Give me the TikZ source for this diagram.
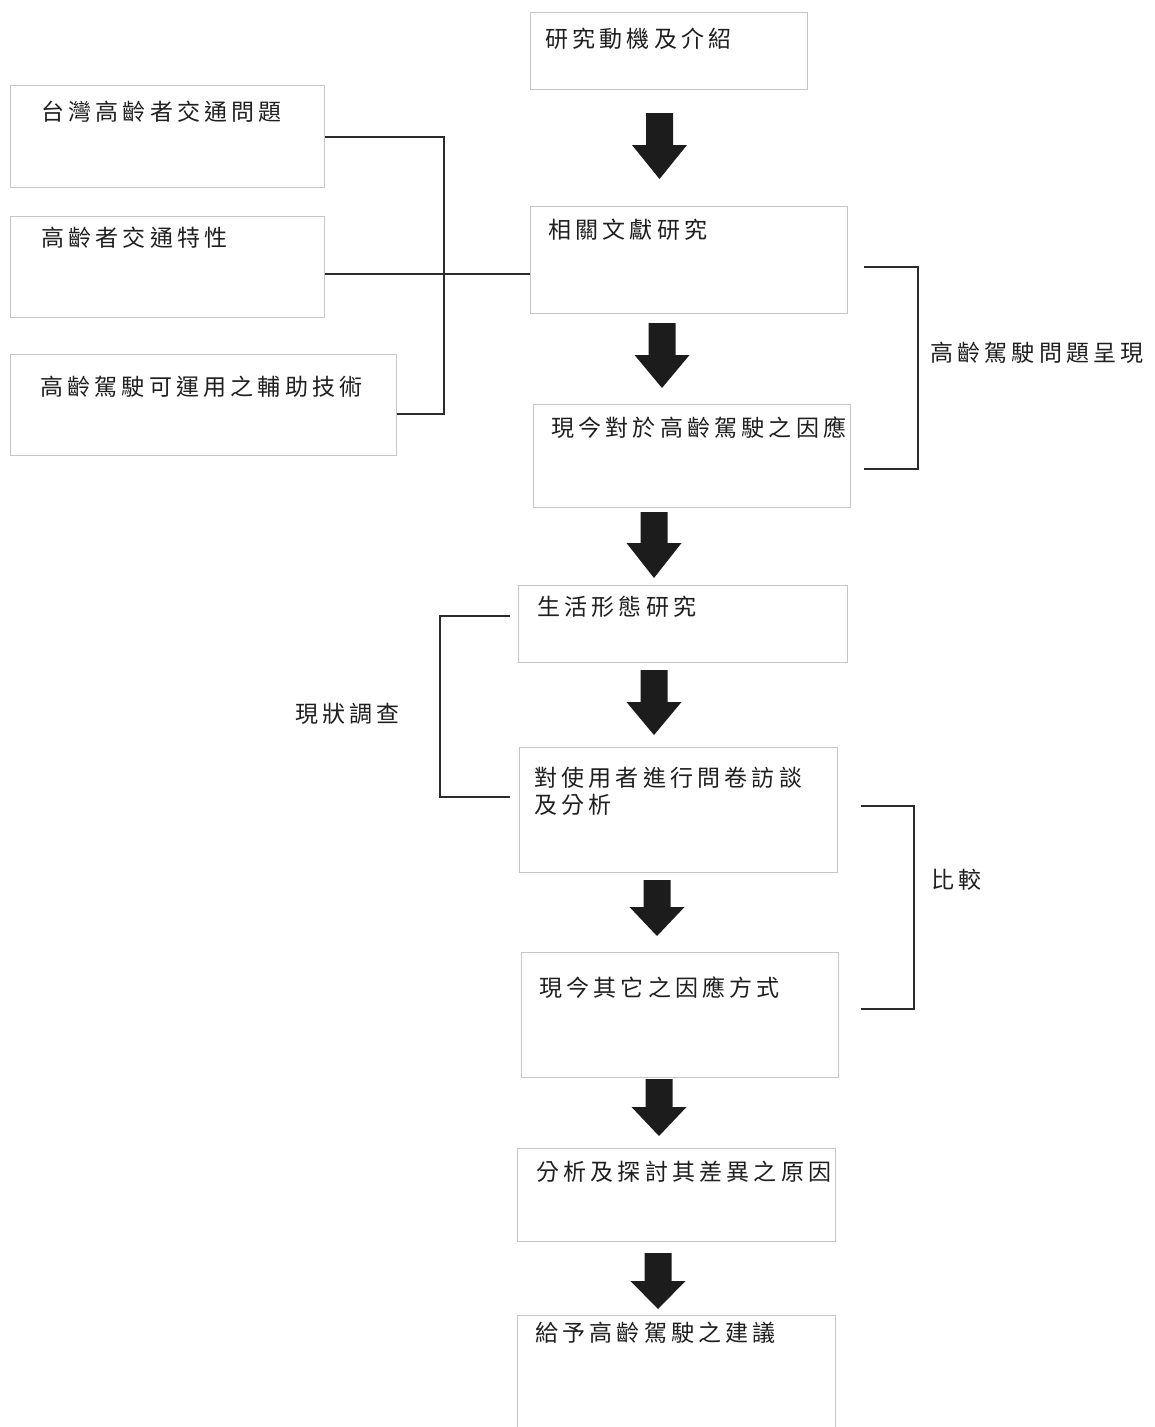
\documentclass[tikz,border=0pt]{standalone}
\usepackage{fontspec}
\newfontfamily\cjk{Noto Sans CJK TC}[LetterSpace=18.3]
\usetikzlibrary{calc}
\definecolor{boxgray}{HTML}{C6C6C6}
\definecolor{linedark}{HTML}{2B2B2B}
\definecolor{arrowblack}{HTML}{1C1C1C}
\tikzset{
  box/.style={draw=boxgray, line width=1.4pt, anchor=north west, inner sep=0pt, fill=white},
  txt/.style={anchor=west, inner sep=0pt, font=\cjk\fontsize{23}{27.5}\selectfont, text=black!88, align=left},
  conn/.style={draw=linedark, line width=2pt},
  blockarrowfill/.style={fill=arrowblack},
}
\newcommand\blockarrow[4]{\fill[blockarrowfill] ({#1-13.5},#2) -- ({#1+13.5},#2) -- ({#1+13.5},#3) -- ({#1+27.5},#3) -- (#1,#4) -- ({#1-27.5},#3) -- ({#1-13.5},#3) -- cycle;}
\begin{document}
\begin{tikzpicture}[x=1pt,y=-1pt]
\useasboundingbox (0,0) rectangle (1154,1427);
\clip (0,0) rectangle (1154,1427);
\fill[white] (0,0) rectangle (1154,1427);

% boxes
\node[box, minimum width=277pt, minimum height=77pt]  (b1)  at (530,12)   {};
\node[box, minimum width=314pt, minimum height=102pt] (b2)  at (10,85)    {};
\node[box, minimum width=314pt, minimum height=101pt] (b3)  at (10,216)   {};
\node[box, minimum width=386pt, minimum height=101pt] (b4)  at (10,354)   {};
\node[box, minimum width=317pt, minimum height=107pt] (b5)  at (530,206)  {};
\node[box, minimum width=317pt, minimum height=103pt] (b6)  at (533,404)  {};
\node[box, minimum width=329pt, minimum height=77pt]  (b7)  at (518,585)  {};
\node[box, minimum width=318pt, minimum height=125pt] (b8)  at (519,747)  {};
\node[box, minimum width=317pt, minimum height=125pt] (b9)  at (521,952)  {};
\node[box, minimum width=318pt, minimum height=93pt]  (b10) at (517,1148) {};
\node[box, minimum width=318pt, minimum height=130pt] (b11) at (517,1315) {};

% texts
\node[txt] (t1)  at (545,39)    {研究動機及介紹};
\node[txt] (t2)  at (41,112)    {台灣高齡者交通問題};
\node[txt] (t3)  at (41,238)    {高齡者交通特性};
\node[txt] (t4)  at (40,387)    {高齡駕駛可運用之輔助技術};
\node[txt] (t5)  at (548,230)   {相關文獻研究};
\node[txt] (t6)  at (551,428)   {現今對於高齡駕駛之因應};
\node[txt] (t7)  at (537,607)   {生活形態研究};
\node[txt] (t8)  at (534,791.5) {對使用者進行問卷訪談\\及分析};
\node[txt] (t9)  at (539,988)   {現今其它之因應方式};
\node[txt] (t10) at (536,1172)  {分析及探討其差異之原因};
\node[txt] (t11) at (535,1333)  {給予高齡駕駛之建議};

% side labels
\node[txt] (l1) at (930,353) {高齡駕駛問題呈現};
\node[txt] (l2) at (295,714) {現狀調查};
\node[txt] (l3) at (931,880) {比較};

% left bus connectors
\coordinate (j3) at ($(b3.north east)+(0,58)$);
\coordinate (j4) at ($(b4.north east)+(0,60)$);
\coordinate (bus) at ($(j4)+(47,0)$);
\draw[conn] (b2.east) -| (bus) -- (j4);
\draw[conn] (j3) -- (j3 -| b5.west);

% brackets
\coordinate (k1a) at (864,267);
\coordinate (k1b) at (918,469);
\draw[conn] (k1a) -| (k1b) -- (k1b -| k1a);
\coordinate (k2a) at (510,616);
\coordinate (k2b) at (440,797);
\draw[conn] (k2a) -| (k2b) -- (k2b -| k2a);
\coordinate (k3a) at (861,806);
\coordinate (k3b) at (914,1009);
\draw[conn] (k3a) -| (k3b) -- (k3b -| k3a);

% block arrows
\blockarrow{659.5}{113}{145}{179}
\blockarrow{662}{323}{355}{388}
\blockarrow{654}{512}{543}{578}
\blockarrow{654}{670}{702}{735}
\blockarrow{657}{880}{907}{936}
\blockarrow{659}{1079}{1107}{1136}
\blockarrow{658}{1253}{1281}{1309}
\end{tikzpicture}
\end{document}
